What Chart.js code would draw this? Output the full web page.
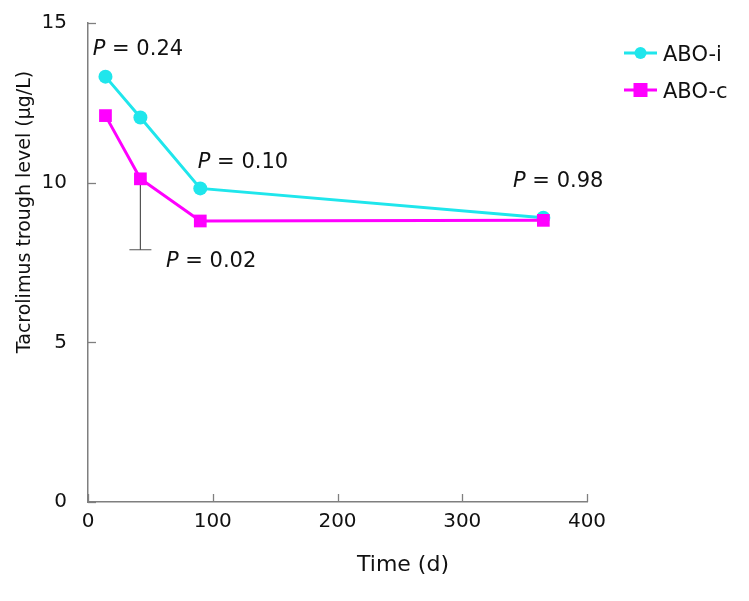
<!DOCTYPE html>
<html>
<head>
<meta charset="utf-8">
<script src="https://cdn.jsdelivr.net/npm/chart.js@4"></script>
<style>
  body { margin: 0; background: #fff; }
</style>
</head>
<body>
<canvas id="myChart" width="749" height="601"></canvas>
<script>
// data
var days = [14, 42, 90, 365];
var aboI = [13.32, 12.04, 9.82, 8.9];
var aboC = [12.1, 10.12, 8.8, 8.82];
var aboCLow = [null, 7.9, null, null]; // lower end of error bar
var xTicks = [0, 100, 200, 300, 400];
var yTicks = [0, 5, 10, 15];
var pLabels = ['0.24', '0.10', '0.02', '0.98'];
var pAt = [[3.8, 14.0], [88, 10.46], [62.5, 7.36], [340.7, 9.86]];

var FONT = 'DejaVu Sans, Verdana, sans-serif';
var CYAN = '#1fe6ec';
var MAG = '#ff00ff';
var AXIS = '#7f7f7f';

var extras = {
    id: 'extras',
    beforeDatasetsDraw: function (chart) {
        var c = chart.ctx, x = chart.scales.x, y = chart.scales.y;
        c.save();
        c.strokeStyle = '#555';
        c.lineWidth = 1.2;
        aboCLow.forEach(function (low, i) {
            if (low == null) return;
            var px = x.getPixelForValue(days[i]);
            var top = y.getPixelForValue(aboC[i]);
            var bot = y.getPixelForValue(low);
            c.beginPath();
            c.moveTo(px, top); c.lineTo(px, bot);
            c.moveTo(px - 11, bot); c.lineTo(px + 11, bot);
            c.stroke();
        });
        c.restore();
    },
    afterDraw: function (chart) {
        var c = chart.ctx, x = chart.scales.x, y = chart.scales.y, a = chart.chartArea;
        c.save();
        // inward tick marks
        c.strokeStyle = AXIS;
        c.lineWidth = 1.3;
        xTicks.forEach(function (v) {
            var px = Math.round(x.getPixelForValue(v)) + 0.5;
            c.beginPath(); c.moveTo(px, a.bottom); c.lineTo(px, a.bottom - 8); c.stroke();
        });
        yTicks.forEach(function (v) {
            var py = Math.round(y.getPixelForValue(v)) + 0.5;
            c.beginPath(); c.moveTo(a.left, py); c.lineTo(a.left + 8, py); c.stroke();
        });

        // P value labels
        c.fillStyle = '#111';
        c.textBaseline = 'alphabetic';
        c.textAlign = 'left';
        pLabels.forEach(function (t, i) {
            var px = x.getPixelForValue(pAt[i][0]);
            var py = y.getPixelForValue(pAt[i][1]);
            c.font = 'italic 21px ' + FONT;
            c.fillText('P', px, py);
            var w = c.measureText('P').width;
            c.font = '21px ' + FONT;
            c.fillText(' = ' + t, px + w, py);
        });

        // axis titles
        c.font = '22px ' + FONT;
        c.textAlign = 'center';
        c.fillText('Time (d)', 403, 571);
        c.save();
        c.translate(30, 212);
        c.rotate(-Math.PI / 2);
        c.font = '19px ' + FONT;
        c.fillText('Tacrolimus trough level (\u03bcg/L)', 0, 0);
        c.restore();

        // legend
        var items = [['ABO-i', CYAN, 'circle', 53], ['ABO-c', MAG, 'rect', 90]];
        items.forEach(function (it) {
            c.strokeStyle = it[1];
            c.fillStyle = it[1];
            c.lineWidth = 3;
            c.beginPath(); c.moveTo(624, it[3]); c.lineTo(657, it[3]); c.stroke();
            if (it[2] === 'circle') {
                c.beginPath(); c.arc(640.5, it[3], 6, 0, Math.PI * 2); c.fill();
            } else {
                c.fillRect(633.5, it[3] - 7, 14, 14);
            }
            c.fillStyle = '#111';
            c.textAlign = 'left';
            c.font = '21px ' + FONT;
            c.fillText(it[0], 663, it[3] + 8);
        });
        c.restore();
    }
};

var ctx = document.getElementById('myChart').getContext('2d');
var chart = new Chart(ctx, {
    type: 'scatter',
    data: {
        datasets: [{
            label: 'ABO-i',
            data: days.map(function (d, i) { return {x: d, y: aboI[i]}; }),
            showLine: true,
            borderColor: CYAN,
            backgroundColor: CYAN,
            borderWidth: 3,
            pointStyle: 'circle',
            pointRadius: 7,
            pointBorderWidth: 0,
            order: 1
        }, {
            label: 'ABO-c',
            data: days.map(function (d, i) { return {x: d, y: aboC[i]}; }),
            showLine: true,
            borderColor: MAG,
            backgroundColor: MAG,
            borderWidth: 3,
            pointStyle: 'rect',
            pointRadius: 9,
            pointBorderWidth: 0,
            order: 0
        }]
    },
    options: {
        responsive: false,
        animation: false,
        layout: { padding: { top: 23, right: 162, left: 0, bottom: 0 } },
        plugins: { legend: { display: false }, tooltip: { enabled: false } },
        scales: {
            x: {
                type: 'linear', min: 0, max: 400,
                afterBuildTicks: function (s) { s.ticks = xTicks.map(function (v) { return {value: v}; }); },
                afterFit: function (s) { s.height = 99; s.paddingLeft = 0; s.paddingRight = 0; },
                grid: { display: false, drawTicks: false },
                border: { display: true, color: AXIS, width: 1.5 },
                ticks: { color: '#111', font: { family: FONT, size: 20 }, padding: 8, maxRotation: 0 }
            },
            y: {
                type: 'linear', min: 0, max: 15,
                afterBuildTicks: function (s) { s.ticks = yTicks.map(function (v) { return {value: v}; }); },
                afterFit: function (s) { s.width = 88; s.paddingTop = 0; s.paddingBottom = 0; },
                grid: { display: false, drawTicks: false },
                border: { display: true, color: AXIS, width: 1.5 },
                ticks: { color: '#111', font: { family: FONT, size: 20 }, padding: 21 }
            }
        }
    },
    plugins: [extras]
});
</script>
</body>
</html>
